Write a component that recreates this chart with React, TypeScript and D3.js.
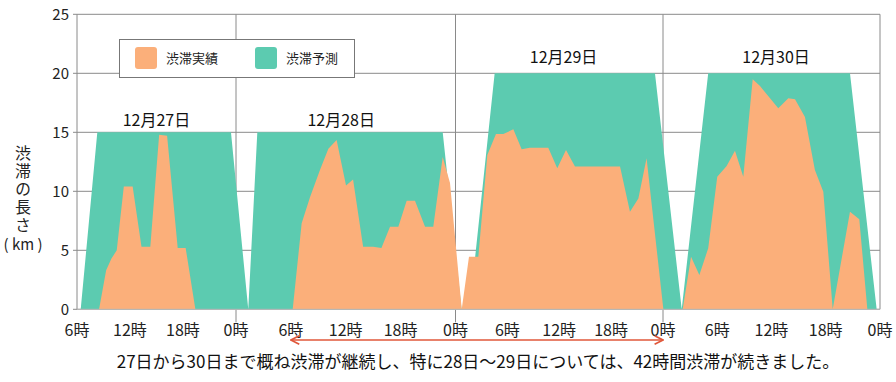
import React from "react";
import * as d3 from "d3";

// hours counted from 0時 on 12/27
const forecastHours = [6.42, 8.3, 23.43, 25.34, 26.33, 46.6, 48.7, 49.63, 52.53, 71.07, 74.07, 77.0, 92.68, 95.63];
const forecastKm = [0, 15, 15, 0, 15, 15, 0, 0, 20, 20, 0, 20, 20, 0];

const actualHours = [
  8.5, 9.3, 9.9, 10.5, 11.3, 12.3, 13.3, 14.3, 15.3, 16.2, 17.4, 18.3, 19.4,
  30.2, 31.18, 32.09, 33.18, 34.1, 35.0, 36.03, 36.8, 37.9, 39.0, 39.9, 40.84, 41.75, 42.66, 43.57, 44.67, 45.57, 46.6, 47.4,
  48.72, 49.56, 50.64, 51.68, 52.68, 53.53, 54.69, 55.65, 56.6, 58.73, 59.77, 60.78, 61.82, 67.03, 68.18, 69.15, 70.1, 72.04,
  74.18, 75.1, 76.02, 77.0, 78.0, 79.04, 79.96, 80.88, 81.92, 82.73, 84.75, 85.86, 86.6, 87.7, 88.8, 89.73, 90.77, 92.68, 93.71, 94.6,
];
const actualKm = [
  0, 3.3, 4.3, 5.0, 10.4, 10.4, 5.3, 5.3, 14.8, 14.7, 5.2, 5.2, 0,
  0, 7.3, 9.5, 11.8, 13.6, 14.35, 10.5, 11.0, 5.3, 5.3, 5.2, 7.0, 7.0, 9.2, 9.2, 7.0, 7.0, 12.9, 10.7,
  0, 4.46, 4.46, 13.07, 14.86, 14.86, 15.25, 13.56, 13.7, 13.7, 11.95, 13.5, 12.1, 12.1, 8.27, 9.4, 12.8, 0,
  0, 4.46, 2.9, 5.17, 11.24, 12.14, 13.44, 11.24, 19.49, 18.92, 17.03, 17.88, 17.8, 16.3, 11.8, 9.97, 0, 8.27, 7.63, 0,
];

const yTicks = [0, 5, 10, 15, 20, 25];
const xTickHours = [6, 12, 18, 24, 30, 36, 42, 48, 54, 60, 66, 72, 78, 84, 90, 96];
const xTickLabels = ["6時", "12時", "18時", "0時", "6時", "12時", "18時", "0時", "6時", "12時", "18時", "0時", "6時", "12時", "18時", "0時"];
const dayBoundaries = [24, 48, 72];
const dayLabels = ["12月27日", "12月28日", "12月29日", "12月30日"];
const dayLabelHours = [15, 35.5, 60.5, 84.5];
const dayLabelKm = [16.0, 16.0, 21.4, 21.4];
const legendNames = ["渋滞実績", "渋滞予測"];
const yTitle = "渋滞の長さ";
const yUnit = "( km )";
const arrowHours = [30, 72];
const caption = "27日から30日まで概ね渋滞が継続し、特に28日～29日については、42時間渋滞が続きました。";

const ORANGE = "#FBAF7A";
const GREEN = "#5CCBB0";
const GRID = "#8a8a8a";
const FONT = "'Noto Sans CJK JP', 'Noto Sans', sans-serif";

export default function App() {
  const W = 896, H = 382;
  const x = d3.scaleLinear().domain([6, 24, 48, 72, 96]).range([77, 236, 455.5, 663, 880]);
  const y = d3.scaleLinear().domain([0, 25]).range([309.3, 14.3]);

  const forecast = forecastHours.map((h, i) => [h, forecastKm[i]] as [number, number]);
  const actual = actualHours.map((h, i) => [h, actualKm[i]] as [number, number]);
  const area = d3
    .area<[number, number]>()
    .x((d) => x(d[0]))
    .y0(y(0))
    .y1((d) => y(d[1]));

  const x0 = x(6), x1 = x(96);

  return (
    <svg width={W} height={H} style={{ position: "absolute", left: 0, top: 0, background: "#fff" }} fontFamily={FONT}>
      <defs>
        <marker id="ah" viewBox="0 0 10 10" refX="9" refY="5" markerWidth="7" markerHeight="7" orient="auto-start-reverse">
          <path d="M1,1 L9,5 L1,9" fill="none" stroke="#E0573A" strokeWidth="1.6" />
        </marker>
      </defs>
      {/* grid */}
      {yTicks.map((t) => (
        <line key={"g" + t} x1={x0 - 4} x2={x1} y1={y(t)} y2={y(t)} stroke={GRID} strokeWidth={1} />
      ))}
      {dayBoundaries.map((h) => (
        <line key={"v" + h} x1={x(h)} x2={x(h)} y1={y(25)} y2={y(0) + 13} stroke={GRID} strokeWidth={1} />
      ))}
      <line x1={x0} x2={x0} y1={y(25)} y2={y(0)} stroke={GRID} strokeWidth={1} />
      <line x1={x1} x2={x1} y1={y(25)} y2={y(0)} stroke={GRID} strokeWidth={1} />
      {/* areas */}
      <path d={area(forecast) || ""} fill={GREEN} />
      <path d={area(actual) || ""} fill={ORANGE} />
      <line x1={x0} x2={x1} y1={y(0)} y2={y(0)} stroke="#bbb" strokeWidth={1} />
      {/* y tick labels */}
      {yTicks.map((t) => (
        <text key={"yt" + t} x={69} y={y(t)} dy="0.36em" textAnchor="end" fontSize={15} fill="#222">
          {t}
        </text>
      ))}
      {/* x tick labels */}
      {xTickHours.map((h, i) => (
        <text key={"xt" + i} x={x(h)} y={336} textAnchor="middle" fontSize={16} fill="#222">
          {xTickLabels[i]}
        </text>
      ))}
      {/* y title (vertical) */}
      <text
        x={23}
        y={145}
        fontSize={16}
        fill="#222"
        letterSpacing={2}
        style={{ writingMode: "vertical-rl" } as React.CSSProperties}
      >
        {yTitle}
      </text>
      <text x={23} y={245} dy="0.36em" textAnchor="middle" fontSize={15} fill="#222">
        {yUnit}
      </text>
      {/* day labels */}
      {dayLabels.map((l, i) => (
        <text key={"d" + i} x={x(dayLabelHours[i])} y={y(dayLabelKm[i])} dy="0.36em" textAnchor="middle" fontSize={16} fill="#111">
          {l}
        </text>
      ))}
      {/* legend */}
      <rect x={119.5} y={39.5} width={235} height={38} fill="#fff" stroke="#777" strokeWidth={1} />
      {legendNames.map((n, i) => (
        <g key={"lg" + i} transform={`translate(${135 + i * 120},47)`}>
          <rect width={22} height={22} rx={3} fill={i === 0 ? ORANGE : GREEN} />
          <text x={31} y={11} dy="0.36em" fontSize={13} fill="#222">
            {n}
          </text>
        </g>
      ))}
      {/* arrow */}
      <line
        x1={x(arrowHours[0])}
        x2={x(arrowHours[1])}
        y1={340}
        y2={340}
        stroke="#E0573A"
        strokeWidth={1.5}
        markerStart="url(#ah)"
        markerEnd="url(#ah)"
      />
      <text x={478} y={362} dy="0.36em" textAnchor="middle" fontSize={17} fill="#111">
        {caption}
      </text>
    </svg>
  );
}
